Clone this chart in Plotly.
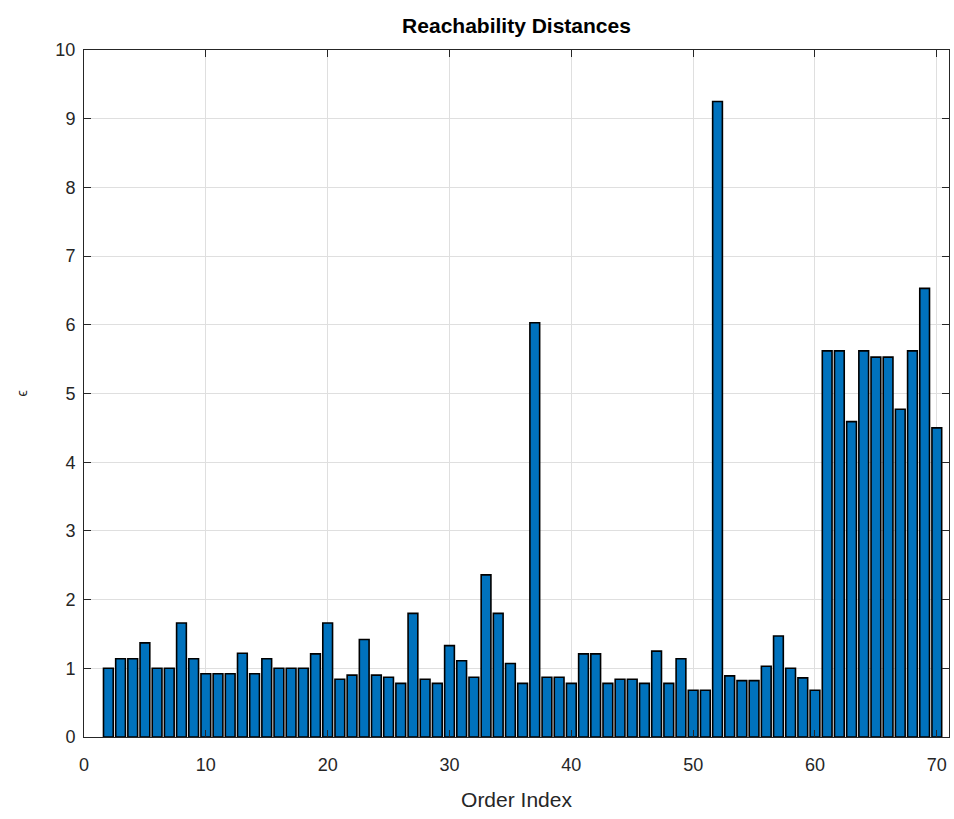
import plotly.graph_objects as go

# reachability distances, order index 2..70 (first point has undefined distance)
order_index = list(range(2, 71))
reach_dist = [
    1.00, 1.14, 1.14, 1.37, 1.00, 1.00, 1.66, 1.14, 0.92, 0.92,
    0.92, 1.22, 0.92, 1.14, 1.00, 1.00, 1.00, 1.21, 1.66, 0.84,
    0.90, 1.42, 0.90, 0.87, 0.78, 1.80, 0.84, 0.78, 1.33, 1.11,
    0.87, 2.36, 1.80, 1.07, 0.78, 6.03, 0.87, 0.87, 0.78, 1.21,
    1.21, 0.78, 0.84, 0.84, 0.78, 1.25, 0.78, 1.14, 0.68, 0.68,
    9.25, 0.89, 0.82, 0.82, 1.03, 1.47, 1.00, 0.86, 0.68, 5.62,
    5.62, 4.59, 5.62, 5.53, 5.53, 4.77, 5.62, 6.53, 4.50,
]

axcol = "#262626"
gridcol = "#dfdfdf"
fnt = "Liberation Sans, Arial, Helvetica, sans-serif"

fig = go.Figure()
fig.add_trace(go.Bar(
    x=order_index, y=reach_dist, width=0.8,
    marker=dict(color="#0072BD", line=dict(color="black", width=1.6)),
))

fig.update_layout(
    width=954, height=819,
    margin=dict(l=84, r=5, t=50, b=82),
    plot_bgcolor="white", paper_bgcolor="white",
    showlegend=False,
    font=dict(family=fnt, color=axcol, size=18),
    title=dict(text="<b>Reachability Distances</b>", x=(84 + 949) / 2 / 954, xanchor="center",
               y=1 - 26 / 819, yanchor="middle", font=dict(size=21, color="black")),
)
fig.update_xaxes(
    range=[0, 71], tickvals=[0, 10, 20, 30, 40, 50, 60, 70], automargin=False,
    showline=True, linecolor=axcol, linewidth=1, mirror="ticks",
    ticks="inside", ticklen=7, tickcolor=axcol, ticklabelstandoff=11,
    showgrid=True, gridcolor=gridcol, zeroline=False,
    title=dict(text="Order Index", font=dict(size=21), standoff=18),
)
fig.update_yaxes(
    range=[0, 10], dtick=1, tick0=0, automargin=False,
    showline=True, linecolor=axcol, linewidth=1, mirror="ticks",
    ticks="inside", ticklen=7, tickcolor=axcol, ticklabelstandoff=4,
    showgrid=True, gridcolor=gridcol, zeroline=False,
    title=dict(text="\u03f5", font=dict(size=14), standoff=24),
)

fig.write_html("out.html", config={"displayModeBar": False},
               post_script="document.body.style.margin='0';")
